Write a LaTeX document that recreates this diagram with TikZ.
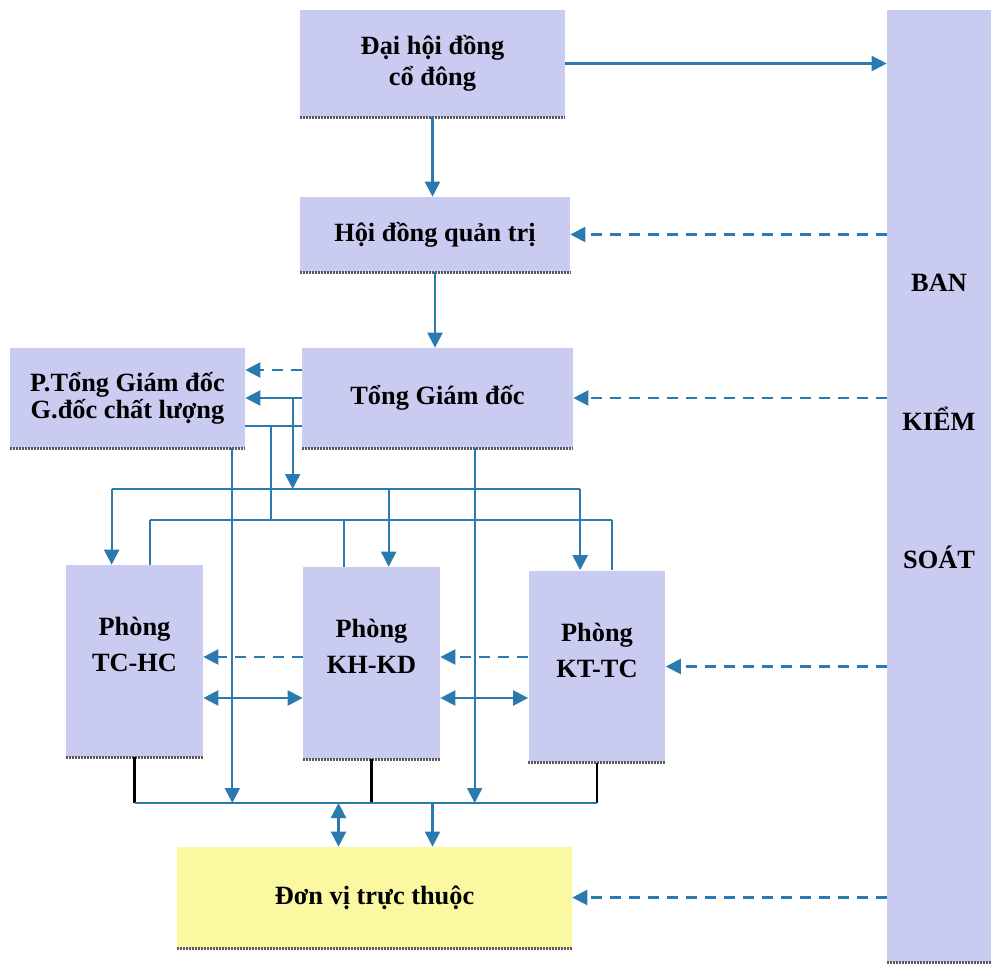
\documentclass[tikz,border=0pt]{standalone}
\usepackage{fontspec}
\setmainfont{Liberation Serif}
\usepackage{tikz}
\usetikzlibrary{arrows.meta,positioning,calc}
\definecolor{orgbox}{HTML}{C9CBF1}
\definecolor{orgyel}{HTML}{FBF8A2}
\definecolor{orgblue}{HTML}{2A7AB0}
\definecolor{orgshd}{HTML}{5A5A5A}
\tikzset{
  box/.style={fill=orgbox,inner sep=0pt,align=center},
  dept/.style={box,minimum width=2.74cm,minimum height=3.84cm},
  dtext/.style={align=center},
  ar/.style={-{Triangle[length=0.3cm,width=0.3cm]},draw=orgblue,line width=0.045cm},
  dar/.style={ar,dash pattern=on 0.22cm off 0.16cm},
  dbl/.style={ar,{Triangle[length=0.3cm,width=0.3cm]}-{Triangle[length=0.3cm,width=0.3cm]}},
  ln/.style={draw=orgblue,line width=0.045cm},
  blk/.style={draw=black,line width=0.045cm},
  shd/.style={draw=orgshd,line width=0.06cm,dash pattern=on 0.04cm off 0.02cm},
}

\begin{document}
\begin{tikzpicture}[x=0.02cm,y=-0.02cm,font=\fontsize{15}{17.5}\selectfont\bfseries]
\useasboundingbox (0,0) rectangle (991,966);
% boxes
\node[box,minimum width=5.3cm,minimum height=2.14cm] (dhd) at (432.5,63.5) {Đại hội đồng\\cổ đông};
\node[box,minimum width=5.4cm,minimum height=1.5cm] (hdqt) at (435,234.5) {Hội đồng quản trị};
\node[box,minimum width=5.42cm,minimum height=2cm] (tgd) at (437.5,398) {Tổng Giám đốc};
\node[box,minimum width=4.7cm,minimum height=2cm] (ptgd) at (127.5,398) {P.Tổng Giám đốc\\[-2pt]G.đốc chất lượng};
\node[dept,label={[dtext,yshift=0.33cm]center:{Phòng\\[3pt]TC-HC}}] (tchc) at (134.5,661) {};
\node[dept,label={[dtext,yshift=0.33cm]center:{Phòng\\[3pt]KH-KD}}] (khkd) at (371.5,663) {};
\node[dept,label={[dtext,yshift=0.33cm]center:{Phòng\\[3pt]KT-TC}}] (kttc) at (597,666.5) {};
\node[box,fill=orgyel,minimum width=7.9cm,minimum height=2.02cm] (dv) at (374.5,897.5) {Đơn vị trực thuộc};
\node[box,minimum width=2.08cm,minimum height=19.04cm,label={[dtext,yshift=1.29cm]center:{BAN\\[2.15cm]KIỂM\\[2.15cm]SOÁT}}] (bks) at (939,486) {};
\foreach \bx in {dhd,hdqt,tgd,ptgd,tchc,khkd,kttc,dv,bks}
  \draw[shd] (\bx.south west) -- (\bx.south east);
% rails
\coordinate (ya) at (0,370);
\coordinate (yb) at (0,426);
\coordinate (bus1) at (0,489);
\coordinate (bus2) at (0,520);
\coordinate (ra) at (0,657);
\coordinate (rb) at (0,698);
\coordinate (bus3) at (0,803);
% top of the chart
\draw[ar] (dhd.east) -- (dhd.east -| bks.west);
\draw[ar] (dhd.south) -- (dhd.south |- hdqt.north);
\draw[ar] (hdqt.south) -- (hdqt.south |- tgd.north);
\draw[dar] (hdqt.east -| bks.west) -- (hdqt.east);
\draw[dar] (tgd.east -| bks.west) -- (tgd.east);
\draw[dar] (kttc.east -| bks.west) -- (kttc.east);
\draw[dar] (dv.east -| bks.west) -- (dv.east);
% TGD and P.TGD
\draw[dar] (ya -| tgd.west) -- (ya -| ptgd.east);
\draw[ar] (tgd.west) -- (ptgd.east);
\draw[ln] (yb -| ptgd.east) -- (yb -| tgd.west);
% down to the departments
\coordinate (c1) at ($(tgd.west)+(-9,0)$);
\coordinate (c2) at ($(tgd.west)+(-31,0)$);
\coordinate (a1) at ($(tchc.north west)+(46,0)$);
\coordinate (a2) at ($(khkd.north west)+(86,0)$);
\coordinate (a3) at ($(kttc.north west)+(52,0)$);
\coordinate (u1) at ($(tchc.north west)+(84,0)$);
\coordinate (u2) at ($(khkd.north west)+(41,0)$);
\coordinate (u3) at ($(kttc.north west)+(84,0)$);
\draw[ar] (c1) -- (c1 |- bus1);
\draw[ln] (c2 |- yb) -- (c2 |- bus2);
\draw[ln] (a1 |- bus1) -- (a3 |- bus1);
\foreach \col in {a1,a2,a3} \draw[ar] (\col |- bus1) -- (\col);
\draw[ln] (u1 |- bus2) -- (u3 |- bus2);
\foreach \col in {u1,u2,u3} \draw[ln] (\col) -- (\col |- bus2);
% between departments
\draw[dar] (ra -| khkd.west) -- (ra -| tchc.east);
\draw[dbl] (rb -| tchc.east) -- (rb -| khkd.west);
\draw[dar] (ra -| kttc.west) -- (ra -| khkd.east);
\draw[dbl] (rb -| khkd.east) -- (rb -| kttc.west);
% down to Don vi truc thuoc
\coordinate (p1) at ($(ptgd.south east)+(-13,0)$);
\coordinate (p2) at ($(tgd.south west)+(173,0)$);
\coordinate (q1) at ($(dv.north)+(-36,0)$);
\coordinate (q2) at ($(dv.north)+(58,0)$);
\draw[ar] (p1) -- (p1 |- bus3);
\draw[ar] (p2) -- (p2 |- bus3);
\foreach \bx in {tchc,khkd,kttc} \draw[blk] (\bx.south) -- (\bx.south |- bus3);
\draw[ln] (tchc.south |- bus3) -- (kttc.south |- bus3);
\draw[dbl] (q1 |- bus3) -- (q1);
\draw[ar] (q2 |- bus3) -- (q2);
\end{tikzpicture}
\end{document}
